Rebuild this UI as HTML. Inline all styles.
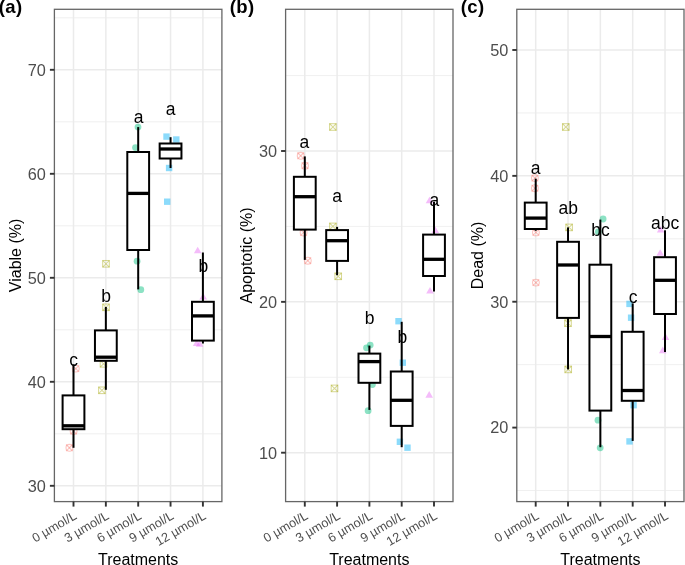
<!DOCTYPE html>
<html><head><meta charset="utf-8"><style>html,body{margin:0;padding:0;background:#fff;width:685px;height:565px;overflow:hidden}svg{display:block;will-change:transform}text{font-family:"Liberation Sans",sans-serif}</style></head>
<body>
<svg width="685" height="565" viewBox="0 0 685 565">
<rect width="685" height="565" fill="#fff"/>
<g stroke="#EBEBEB" fill="none">
<line x1="54.4" x2="221.9" y1="433.8" y2="433.8" stroke-width="0.75"/>
<line x1="54.4" x2="221.9" y1="329.8" y2="329.8" stroke-width="0.75"/>
<line x1="54.4" x2="221.9" y1="225.8" y2="225.8" stroke-width="0.75"/>
<line x1="54.4" x2="221.9" y1="121.8" y2="121.8" stroke-width="0.75"/>
<line x1="54.4" x2="221.9" y1="17.8" y2="17.8" stroke-width="0.75"/>
<line x1="54.4" x2="221.9" y1="485.8" y2="485.8" stroke-width="1.5"/>
<line x1="54.4" x2="221.9" y1="381.8" y2="381.8" stroke-width="1.5"/>
<line x1="54.4" x2="221.9" y1="277.8" y2="277.8" stroke-width="1.5"/>
<line x1="54.4" x2="221.9" y1="173.8" y2="173.8" stroke-width="1.5"/>
<line x1="54.4" x2="221.9" y1="69.8" y2="69.8" stroke-width="1.5"/>
<line x1="73.5" x2="73.5" y1="9.3" y2="501.6" stroke-width="1.5"/>
<line x1="105.85" x2="105.85" y1="9.3" y2="501.6" stroke-width="1.5"/>
<line x1="138.2" x2="138.2" y1="9.3" y2="501.6" stroke-width="1.5"/>
<line x1="170.55" x2="170.55" y1="9.3" y2="501.6" stroke-width="1.5"/>
<line x1="202.9" x2="202.9" y1="9.3" y2="501.6" stroke-width="1.5"/>
</g>
<g stroke="#F8766D" stroke-opacity="0.42" stroke-width="1.1" fill="none"><circle cx="75.8" cy="368.6" r="3.4"/><path d="M72.5 365.3L79.1 371.9"/><path d="M72.5 371.9L79.1 365.3"/></g>
<g stroke="#F8766D" stroke-opacity="0.42" stroke-width="1.1" fill="none"><circle cx="69.4" cy="447.8" r="3.4"/><path d="M66.1 444.5L72.7 451.1"/><path d="M66.1 451.1L72.7 444.5"/></g>
<g stroke="#F8766D" stroke-opacity="0.42" stroke-width="1.1" fill="none"><circle cx="73.6" cy="431" r="3.4"/><path d="M70.3 427.7L76.9 434.3"/><path d="M70.3 434.3L76.9 427.7"/></g>
<g stroke="#A3A500" stroke-opacity="0.42" stroke-width="1.05" fill="none"><rect x="102.7" y="260.5" width="6.6" height="6.6"/><path d="M102.7 260.5L109.3 267.1M102.7 267.1L109.3 260.5"/></g>
<g stroke="#A3A500" stroke-opacity="0.42" stroke-width="1.05" fill="none"><rect x="102.7" y="304" width="6.6" height="6.6"/><path d="M102.7 304L109.3 310.6M102.7 310.6L109.3 304"/></g>
<g stroke="#A3A500" stroke-opacity="0.42" stroke-width="1.05" fill="none"><rect x="100.2" y="360.5" width="6.6" height="6.6"/><path d="M100.2 360.5L106.8 367.1M100.2 367.1L106.8 360.5"/></g>
<g stroke="#A3A500" stroke-opacity="0.42" stroke-width="1.05" fill="none"><rect x="98.6" y="387" width="6.6" height="6.6"/><path d="M98.6 387L105.2 393.6M98.6 393.6L105.2 387"/></g>
<circle cx="138" cy="127.1" r="3.4" fill="#00BF7D" fill-opacity="0.45"/>
<circle cx="135.5" cy="147.6" r="3.4" fill="#00BF7D" fill-opacity="0.45"/>
<circle cx="137.1" cy="261.2" r="3.4" fill="#00BF7D" fill-opacity="0.45"/>
<circle cx="140.8" cy="289.7" r="3.4" fill="#00BF7D" fill-opacity="0.45"/>
<rect x="163.3" y="133.4" width="6.4" height="6.4" fill="#00B0F6" fill-opacity="0.45"/>
<rect x="173.1" y="136.3" width="6.4" height="6.4" fill="#00B0F6" fill-opacity="0.45"/>
<rect x="165.9" y="164.8" width="6.4" height="6.4" fill="#00B0F6" fill-opacity="0.45"/>
<rect x="164" y="198.5" width="6.4" height="6.4" fill="#00B0F6" fill-opacity="0.45"/>
<path d="M197.7 246.71L201.5 253.29L193.9 253.29Z" fill="#E76BF3" fill-opacity="0.45"/>
<path d="M203.2 292.91L207 299.49L199.4 299.49Z" fill="#E76BF3" fill-opacity="0.45"/>
<path d="M196.6 339.41L200.4 345.99L192.8 345.99Z" fill="#E76BF3" fill-opacity="0.45"/>
<path d="M199.6 340.21L203.4 346.79L195.8 346.79Z" fill="#E76BF3" fill-opacity="0.45"/>
<g stroke="#000" stroke-width="2" fill="#fff" stroke-linecap="butt">
<line x1="73.5" x2="73.5" y1="364.3" y2="395.4"/>
<line x1="73.5" x2="73.5" y1="429.2" y2="447.8"/>
<rect x="62.6" y="395.4" width="21.8" height="33.8"/>
<line x1="62.6" x2="84.4" y1="425.8" y2="425.8" stroke-width="3.3"/>
<line x1="105.85" x2="105.85" y1="307" y2="330.4"/>
<line x1="105.85" x2="105.85" y1="360.8" y2="389.8"/>
<rect x="94.95" y="330.4" width="21.8" height="30.4"/>
<line x1="94.95" x2="116.75" y1="357.2" y2="357.2" stroke-width="3.3"/>
<line x1="138.2" x2="138.2" y1="127.1" y2="152"/>
<line x1="138.2" x2="138.2" y1="250" y2="289.4"/>
<rect x="127.3" y="152" width="21.8" height="98"/>
<line x1="127.3" x2="149.1" y1="193.4" y2="193.4" stroke-width="3.3"/>
<line x1="170.55" x2="170.55" y1="137.2" y2="143.5"/>
<line x1="170.55" x2="170.55" y1="158.5" y2="168"/>
<rect x="159.65" y="143.5" width="21.8" height="15"/>
<line x1="159.65" x2="181.45" y1="149" y2="149" stroke-width="3.3"/>
<line x1="202.9" x2="202.9" y1="252.5" y2="301.8"/>
<line x1="202.9" x2="202.9" y1="340.6" y2="343.5"/>
<rect x="192" y="301.8" width="21.8" height="38.8"/>
<line x1="192" x2="213.8" y1="315.9" y2="315.9" stroke-width="3.3"/>
</g>
<text x="73.65" y="366.3" font-family="Liberation Sans, sans-serif" font-size="17.5" text-anchor="middle" fill="#000">c</text>
<text x="106.15" y="301.9" font-family="Liberation Sans, sans-serif" font-size="17.5" text-anchor="middle" fill="#000">b</text>
<text x="138.7" y="123.2" font-family="Liberation Sans, sans-serif" font-size="17.5" text-anchor="middle" fill="#000">a</text>
<text x="170.7" y="114.7" font-family="Liberation Sans, sans-serif" font-size="17.5" text-anchor="middle" fill="#000">a</text>
<text x="203.25" y="272.2" font-family="Liberation Sans, sans-serif" font-size="17.5" text-anchor="middle" fill="#000">b</text>
<rect x="54.4" y="9.3" width="167.5" height="492.3" fill="none" stroke="#666" stroke-width="1.3"/>
<line x1="49.9" x2="54.4" y1="485.8" y2="485.8" stroke="#333" stroke-width="1.9"/>
<text x="45.9" y="491.6" font-family="Liberation Sans, sans-serif" font-size="16.3" text-anchor="end" fill="#4D4D4D">30</text>
<line x1="49.9" x2="54.4" y1="381.8" y2="381.8" stroke="#333" stroke-width="1.9"/>
<text x="45.9" y="387.6" font-family="Liberation Sans, sans-serif" font-size="16.3" text-anchor="end" fill="#4D4D4D">40</text>
<line x1="49.9" x2="54.4" y1="277.8" y2="277.8" stroke="#333" stroke-width="1.9"/>
<text x="45.9" y="283.6" font-family="Liberation Sans, sans-serif" font-size="16.3" text-anchor="end" fill="#4D4D4D">50</text>
<line x1="49.9" x2="54.4" y1="173.8" y2="173.8" stroke="#333" stroke-width="1.9"/>
<text x="45.9" y="179.6" font-family="Liberation Sans, sans-serif" font-size="16.3" text-anchor="end" fill="#4D4D4D">60</text>
<line x1="49.9" x2="54.4" y1="69.8" y2="69.8" stroke="#333" stroke-width="1.9"/>
<text x="45.9" y="75.6" font-family="Liberation Sans, sans-serif" font-size="16.3" text-anchor="end" fill="#4D4D4D">70</text>
<line x1="73.5" x2="73.5" y1="501.6" y2="506.6" stroke="#333" stroke-width="1.9"/>
<text transform="translate(73 510.4) rotate(-30)" x="0" y="0" dy="0.72em" font-family="Liberation Sans, sans-serif" font-size="12.7" text-anchor="end" fill="#4D4D4D">0 µmol/L</text>
<line x1="105.85" x2="105.85" y1="501.6" y2="506.6" stroke="#333" stroke-width="1.9"/>
<text transform="translate(105.35 510.4) rotate(-30)" x="0" y="0" dy="0.72em" font-family="Liberation Sans, sans-serif" font-size="12.7" text-anchor="end" fill="#4D4D4D">3 µmol/L</text>
<line x1="138.2" x2="138.2" y1="501.6" y2="506.6" stroke="#333" stroke-width="1.9"/>
<text transform="translate(137.7 510.4) rotate(-30)" x="0" y="0" dy="0.72em" font-family="Liberation Sans, sans-serif" font-size="12.7" text-anchor="end" fill="#4D4D4D">6 µmol/L</text>
<line x1="170.55" x2="170.55" y1="501.6" y2="506.6" stroke="#333" stroke-width="1.9"/>
<text transform="translate(170.05 510.4) rotate(-30)" x="0" y="0" dy="0.72em" font-family="Liberation Sans, sans-serif" font-size="12.7" text-anchor="end" fill="#4D4D4D">9 µmol/L</text>
<line x1="202.9" x2="202.9" y1="501.6" y2="506.6" stroke="#333" stroke-width="1.9"/>
<text transform="translate(202.4 510.4) rotate(-30)" x="0" y="0" dy="0.72em" font-family="Liberation Sans, sans-serif" font-size="12.7" text-anchor="end" fill="#4D4D4D">12 µmol/L</text>
<text x="138.15" y="564.8" font-family="Liberation Sans, sans-serif" font-size="16" text-anchor="middle" fill="#000">Treatments</text>
<text transform="translate(21.2 255.45) rotate(-90)" x="0" y="0" font-family="Liberation Sans, sans-serif" font-size="16" text-anchor="middle" fill="#000">Viable (%)</text>
<text x="-1.2" y="12.9" font-family="Liberation Sans, sans-serif" font-size="18.5" font-weight="bold" letter-spacing="0.4" fill="#000">(a)</text>
<g stroke="#EBEBEB" fill="none">
<line x1="285.6" x2="453" y1="377.27" y2="377.27" stroke-width="0.75"/>
<line x1="285.6" x2="453" y1="226.42" y2="226.42" stroke-width="0.75"/>
<line x1="285.6" x2="453" y1="75.57" y2="75.57" stroke-width="0.75"/>
<line x1="285.6" x2="453" y1="452.7" y2="452.7" stroke-width="1.5"/>
<line x1="285.6" x2="453" y1="301.85" y2="301.85" stroke-width="1.5"/>
<line x1="285.6" x2="453" y1="151" y2="151" stroke-width="1.5"/>
<line x1="304.8" x2="304.8" y1="9.3" y2="501.6" stroke-width="1.5"/>
<line x1="337.1" x2="337.1" y1="9.3" y2="501.6" stroke-width="1.5"/>
<line x1="369.4" x2="369.4" y1="9.3" y2="501.6" stroke-width="1.5"/>
<line x1="401.7" x2="401.7" y1="9.3" y2="501.6" stroke-width="1.5"/>
<line x1="434" x2="434" y1="9.3" y2="501.6" stroke-width="1.5"/>
</g>
<g stroke="#F8766D" stroke-opacity="0.42" stroke-width="1.1" fill="none"><circle cx="300.7" cy="155.8" r="3.4"/><path d="M297.4 152.5L304 159.1"/><path d="M297.4 159.1L304 152.5"/></g>
<g stroke="#F8766D" stroke-opacity="0.42" stroke-width="1.1" fill="none"><circle cx="305" cy="165.7" r="3.4"/><path d="M301.7 162.4L308.3 169"/><path d="M301.7 169L308.3 162.4"/></g>
<g stroke="#F8766D" stroke-opacity="0.42" stroke-width="1.1" fill="none"><circle cx="303.6" cy="232.5" r="3.4"/><path d="M300.3 229.2L306.9 235.8"/><path d="M300.3 235.8L306.9 229.2"/></g>
<g stroke="#F8766D" stroke-opacity="0.42" stroke-width="1.1" fill="none"><circle cx="307.8" cy="260.7" r="3.4"/><path d="M304.5 257.4L311.1 264"/><path d="M304.5 264L311.1 257.4"/></g>
<g stroke="#A3A500" stroke-opacity="0.42" stroke-width="1.05" fill="none"><rect x="329.6" y="123.7" width="6.6" height="6.6"/><path d="M329.6 123.7L336.2 130.3M329.6 130.3L336.2 123.7"/></g>
<g stroke="#A3A500" stroke-opacity="0.42" stroke-width="1.05" fill="none"><rect x="329.6" y="223.1" width="6.6" height="6.6"/><path d="M329.6 223.1L336.2 229.7M329.6 229.7L336.2 223.1"/></g>
<g stroke="#A3A500" stroke-opacity="0.42" stroke-width="1.05" fill="none"><rect x="334.9" y="273" width="6.6" height="6.6"/><path d="M334.9 273L341.5 279.6M334.9 279.6L341.5 273"/></g>
<g stroke="#A3A500" stroke-opacity="0.42" stroke-width="1.05" fill="none"><rect x="331.2" y="385.1" width="6.6" height="6.6"/><path d="M331.2 385.1L337.8 391.7M331.2 391.7L337.8 385.1"/></g>
<circle cx="366.5" cy="347.8" r="3.4" fill="#00BF7D" fill-opacity="0.45"/>
<circle cx="370.2" cy="345.1" r="3.4" fill="#00BF7D" fill-opacity="0.45"/>
<circle cx="372.4" cy="384.6" r="3.4" fill="#00BF7D" fill-opacity="0.45"/>
<circle cx="368.1" cy="410.7" r="3.4" fill="#00BF7D" fill-opacity="0.45"/>
<rect x="395.3" y="318" width="6.4" height="6.4" fill="#00B0F6" fill-opacity="0.45"/>
<rect x="399.6" y="359.5" width="6.4" height="6.4" fill="#00B0F6" fill-opacity="0.45"/>
<rect x="396.7" y="438.6" width="6.4" height="6.4" fill="#00B0F6" fill-opacity="0.45"/>
<rect x="404.3" y="444.5" width="6.4" height="6.4" fill="#00B0F6" fill-opacity="0.45"/>
<path d="M429.5 196.71L433.3 203.29L425.7 203.29Z" fill="#E76BF3" fill-opacity="0.45"/>
<path d="M435.3 226.51L439.1 233.09L431.5 233.09Z" fill="#E76BF3" fill-opacity="0.45"/>
<path d="M430 287.01L433.8 293.59L426.2 293.59Z" fill="#E76BF3" fill-opacity="0.45"/>
<path d="M429.2 391.11L433 397.69L425.4 397.69Z" fill="#E76BF3" fill-opacity="0.45"/>
<g stroke="#000" stroke-width="2" fill="#fff" stroke-linecap="butt">
<line x1="304.8" x2="304.8" y1="156.4" y2="176.8"/>
<line x1="304.8" x2="304.8" y1="229.6" y2="259.9"/>
<rect x="293.9" y="176.8" width="21.8" height="52.8"/>
<line x1="293.9" x2="315.7" y1="196.7" y2="196.7" stroke-width="3.3"/>
<line x1="337.1" x2="337.1" y1="226.9" y2="230.1"/>
<line x1="337.1" x2="337.1" y1="260.9" y2="275.2"/>
<rect x="326.2" y="230.1" width="21.8" height="30.8"/>
<line x1="326.2" x2="348" y1="240.7" y2="240.7" stroke-width="3.3"/>
<line x1="369.4" x2="369.4" y1="345.6" y2="353.6"/>
<line x1="369.4" x2="369.4" y1="382.8" y2="409.9"/>
<rect x="358.5" y="353.6" width="21.8" height="29.2"/>
<line x1="358.5" x2="380.3" y1="361.6" y2="361.6" stroke-width="3.3"/>
<line x1="401.7" x2="401.7" y1="321.8" y2="371.5"/>
<line x1="401.7" x2="401.7" y1="425.9" y2="447.2"/>
<rect x="390.8" y="371.5" width="21.8" height="54.4"/>
<line x1="390.8" x2="412.6" y1="400.3" y2="400.3" stroke-width="3.3"/>
<line x1="434" x2="434" y1="201.7" y2="234.6"/>
<line x1="434" x2="434" y1="276" y2="291.4"/>
<rect x="423.1" y="234.6" width="21.8" height="41.4"/>
<line x1="423.1" x2="444.9" y1="259.3" y2="259.3" stroke-width="3.3"/>
</g>
<text x="304.4" y="148.1" font-family="Liberation Sans, sans-serif" font-size="17.5" text-anchor="middle" fill="#000">a</text>
<text x="337.05" y="201.7" font-family="Liberation Sans, sans-serif" font-size="17.5" text-anchor="middle" fill="#000">a</text>
<text x="369.7" y="324.3" font-family="Liberation Sans, sans-serif" font-size="17.5" text-anchor="middle" fill="#000">b</text>
<text x="402.25" y="342.9" font-family="Liberation Sans, sans-serif" font-size="17.5" text-anchor="middle" fill="#000">b</text>
<text x="434.25" y="205.8" font-family="Liberation Sans, sans-serif" font-size="17.5" text-anchor="middle" fill="#000">a</text>
<rect x="285.6" y="9.3" width="167.4" height="492.3" fill="none" stroke="#666" stroke-width="1.3"/>
<line x1="281.1" x2="285.6" y1="452.7" y2="452.7" stroke="#333" stroke-width="1.9"/>
<text x="277.1" y="458.5" font-family="Liberation Sans, sans-serif" font-size="16.3" text-anchor="end" fill="#4D4D4D">10</text>
<line x1="281.1" x2="285.6" y1="301.85" y2="301.85" stroke="#333" stroke-width="1.9"/>
<text x="277.1" y="307.65" font-family="Liberation Sans, sans-serif" font-size="16.3" text-anchor="end" fill="#4D4D4D">20</text>
<line x1="281.1" x2="285.6" y1="151" y2="151" stroke="#333" stroke-width="1.9"/>
<text x="277.1" y="156.8" font-family="Liberation Sans, sans-serif" font-size="16.3" text-anchor="end" fill="#4D4D4D">30</text>
<line x1="304.8" x2="304.8" y1="501.6" y2="506.6" stroke="#333" stroke-width="1.9"/>
<text transform="translate(304.3 510.4) rotate(-30)" x="0" y="0" dy="0.72em" font-family="Liberation Sans, sans-serif" font-size="12.7" text-anchor="end" fill="#4D4D4D">0 µmol/L</text>
<line x1="337.1" x2="337.1" y1="501.6" y2="506.6" stroke="#333" stroke-width="1.9"/>
<text transform="translate(336.6 510.4) rotate(-30)" x="0" y="0" dy="0.72em" font-family="Liberation Sans, sans-serif" font-size="12.7" text-anchor="end" fill="#4D4D4D">3 µmol/L</text>
<line x1="369.4" x2="369.4" y1="501.6" y2="506.6" stroke="#333" stroke-width="1.9"/>
<text transform="translate(368.9 510.4) rotate(-30)" x="0" y="0" dy="0.72em" font-family="Liberation Sans, sans-serif" font-size="12.7" text-anchor="end" fill="#4D4D4D">6 µmol/L</text>
<line x1="401.7" x2="401.7" y1="501.6" y2="506.6" stroke="#333" stroke-width="1.9"/>
<text transform="translate(401.2 510.4) rotate(-30)" x="0" y="0" dy="0.72em" font-family="Liberation Sans, sans-serif" font-size="12.7" text-anchor="end" fill="#4D4D4D">9 µmol/L</text>
<line x1="434" x2="434" y1="501.6" y2="506.6" stroke="#333" stroke-width="1.9"/>
<text transform="translate(433.5 510.4) rotate(-30)" x="0" y="0" dy="0.72em" font-family="Liberation Sans, sans-serif" font-size="12.7" text-anchor="end" fill="#4D4D4D">12 µmol/L</text>
<text x="369.3" y="564.8" font-family="Liberation Sans, sans-serif" font-size="16" text-anchor="middle" fill="#000">Treatments</text>
<text transform="translate(252.2 255.45) rotate(-90)" x="0" y="0" font-family="Liberation Sans, sans-serif" font-size="16" text-anchor="middle" fill="#000">Apoptotic (%)</text>
<text x="229.8" y="12.9" font-family="Liberation Sans, sans-serif" font-size="18.5" font-weight="bold" letter-spacing="0.4" fill="#000">(b)</text>
<g stroke="#EBEBEB" fill="none">
<line x1="516.8" x2="684" y1="490.54" y2="490.54" stroke-width="0.75"/>
<line x1="516.8" x2="684" y1="364.67" y2="364.67" stroke-width="0.75"/>
<line x1="516.8" x2="684" y1="238.8" y2="238.8" stroke-width="0.75"/>
<line x1="516.8" x2="684" y1="112.93" y2="112.93" stroke-width="0.75"/>
<line x1="516.8" x2="684" y1="427.6" y2="427.6" stroke-width="1.5"/>
<line x1="516.8" x2="684" y1="301.73" y2="301.73" stroke-width="1.5"/>
<line x1="516.8" x2="684" y1="175.86" y2="175.86" stroke-width="1.5"/>
<line x1="516.8" x2="684" y1="49.99" y2="49.99" stroke-width="1.5"/>
<line x1="535.7" x2="535.7" y1="9.3" y2="501.6" stroke-width="1.5"/>
<line x1="568.03" x2="568.03" y1="9.3" y2="501.6" stroke-width="1.5"/>
<line x1="600.36" x2="600.36" y1="9.3" y2="501.6" stroke-width="1.5"/>
<line x1="632.69" x2="632.69" y1="9.3" y2="501.6" stroke-width="1.5"/>
<line x1="665.02" x2="665.02" y1="9.3" y2="501.6" stroke-width="1.5"/>
</g>
<g stroke="#F8766D" stroke-opacity="0.42" stroke-width="1.1" fill="none"><circle cx="534.9" cy="178.1" r="3.4"/><path d="M531.6 174.8L538.2 181.4"/><path d="M531.6 181.4L538.2 174.8"/></g>
<g stroke="#F8766D" stroke-opacity="0.42" stroke-width="1.1" fill="none"><circle cx="534.9" cy="188.2" r="3.4"/><path d="M531.6 184.9L538.2 191.5"/><path d="M531.6 191.5L538.2 184.9"/></g>
<g stroke="#F8766D" stroke-opacity="0.42" stroke-width="1.1" fill="none"><circle cx="535.9" cy="232.4" r="3.4"/><path d="M532.6 229.1L539.2 235.7"/><path d="M532.6 235.7L539.2 229.1"/></g>
<g stroke="#F8766D" stroke-opacity="0.42" stroke-width="1.1" fill="none"><circle cx="535.9" cy="282.6" r="3.4"/><path d="M532.6 279.3L539.2 285.9"/><path d="M532.6 285.9L539.2 279.3"/></g>
<g stroke="#A3A500" stroke-opacity="0.42" stroke-width="1.05" fill="none"><rect x="562.5" y="123.7" width="6.6" height="6.6"/><path d="M562.5 123.7L569.1 130.3M562.5 130.3L569.1 123.7"/></g>
<g stroke="#A3A500" stroke-opacity="0.42" stroke-width="1.05" fill="none"><rect x="565.8" y="224.1" width="6.6" height="6.6"/><path d="M565.8 224.1L572.4 230.7M565.8 230.7L572.4 224.1"/></g>
<g stroke="#A3A500" stroke-opacity="0.42" stroke-width="1.05" fill="none"><rect x="564.7" y="319.9" width="6.6" height="6.6"/><path d="M564.7 319.9L571.3 326.5M564.7 326.5L571.3 319.9"/></g>
<g stroke="#A3A500" stroke-opacity="0.42" stroke-width="1.05" fill="none"><rect x="564.9" y="366.1" width="6.6" height="6.6"/><path d="M564.9 366.1L571.5 372.7M564.9 372.7L571.5 366.1"/></g>
<circle cx="603.1" cy="219" r="3.4" fill="#00BF7D" fill-opacity="0.45"/>
<circle cx="598.3" cy="231.8" r="3.4" fill="#00BF7D" fill-opacity="0.45"/>
<circle cx="598" cy="420.2" r="3.4" fill="#00BF7D" fill-opacity="0.45"/>
<circle cx="600.2" cy="447.8" r="3.4" fill="#00BF7D" fill-opacity="0.45"/>
<rect x="626.3" y="300.7" width="6.4" height="6.4" fill="#00B0F6" fill-opacity="0.45"/>
<rect x="627.9" y="314.5" width="6.4" height="6.4" fill="#00B0F6" fill-opacity="0.45"/>
<rect x="630.4" y="402" width="6.4" height="6.4" fill="#00B0F6" fill-opacity="0.45"/>
<rect x="626.3" y="438.2" width="6.4" height="6.4" fill="#00B0F6" fill-opacity="0.45"/>
<path d="M660.7 225.91L664.5 232.49L656.9 232.49Z" fill="#E76BF3" fill-opacity="0.45"/>
<path d="M660.2 249.21L664 255.79L656.4 255.79Z" fill="#E76BF3" fill-opacity="0.45"/>
<path d="M665.5 333.31L669.3 339.89L661.7 339.89Z" fill="#E76BF3" fill-opacity="0.45"/>
<path d="M662.8 346.61L666.6 353.19L659 353.19Z" fill="#E76BF3" fill-opacity="0.45"/>
<g stroke="#000" stroke-width="2" fill="#fff" stroke-linecap="butt">
<line x1="535.7" x2="535.7" y1="178.7" y2="202.6"/>
<line x1="535.7" x2="535.7" y1="229" y2="230.8"/>
<rect x="524.8" y="202.6" width="21.8" height="26.4"/>
<line x1="524.8" x2="546.6" y1="218.1" y2="218.1" stroke-width="3.3"/>
<line x1="568.03" x2="568.03" y1="227.4" y2="241.8"/>
<line x1="568.03" x2="568.03" y1="317.9" y2="369.4"/>
<rect x="557.13" y="241.8" width="21.8" height="76.1"/>
<line x1="557.13" x2="578.93" y1="265" y2="265" stroke-width="3.3"/>
<line x1="600.36" x2="600.36" y1="219.6" y2="264.7"/>
<line x1="600.36" x2="600.36" y1="410.6" y2="447.2"/>
<rect x="589.46" y="264.7" width="21.8" height="145.9"/>
<line x1="589.46" x2="611.26" y1="336.5" y2="336.5" stroke-width="3.3"/>
<line x1="632.69" x2="632.69" y1="303.4" y2="331.8"/>
<line x1="632.69" x2="632.69" y1="400.8" y2="440.9"/>
<rect x="621.79" y="331.8" width="21.8" height="69"/>
<line x1="621.79" x2="643.59" y1="390.5" y2="390.5" stroke-width="3.3"/>
<line x1="665.02" x2="665.02" y1="230.3" y2="257.2"/>
<line x1="665.02" x2="665.02" y1="314" y2="352"/>
<rect x="654.12" y="257.2" width="21.8" height="56.8"/>
<line x1="654.12" x2="675.92" y1="280.3" y2="280.3" stroke-width="3.3"/>
</g>
<text x="535.65" y="173.8" font-family="Liberation Sans, sans-serif" font-size="17.5" text-anchor="middle" fill="#000">a</text>
<text x="568.25" y="213.5" font-family="Liberation Sans, sans-serif" font-size="17.5" text-anchor="middle" fill="#000">ab</text>
<text x="600.6" y="236.4" font-family="Liberation Sans, sans-serif" font-size="17.5" text-anchor="middle" fill="#000">bc</text>
<text x="633.15" y="303.2" font-family="Liberation Sans, sans-serif" font-size="17.5" text-anchor="middle" fill="#000">c</text>
<text x="665.2" y="228.5" font-family="Liberation Sans, sans-serif" font-size="17.5" text-anchor="middle" fill="#000">abc</text>
<rect x="516.8" y="9.3" width="167.2" height="492.3" fill="none" stroke="#666" stroke-width="1.3"/>
<line x1="512.3" x2="516.8" y1="427.6" y2="427.6" stroke="#333" stroke-width="1.9"/>
<text x="508.3" y="433.4" font-family="Liberation Sans, sans-serif" font-size="16.3" text-anchor="end" fill="#4D4D4D">20</text>
<line x1="512.3" x2="516.8" y1="301.73" y2="301.73" stroke="#333" stroke-width="1.9"/>
<text x="508.3" y="307.53" font-family="Liberation Sans, sans-serif" font-size="16.3" text-anchor="end" fill="#4D4D4D">30</text>
<line x1="512.3" x2="516.8" y1="175.86" y2="175.86" stroke="#333" stroke-width="1.9"/>
<text x="508.3" y="181.66" font-family="Liberation Sans, sans-serif" font-size="16.3" text-anchor="end" fill="#4D4D4D">40</text>
<line x1="512.3" x2="516.8" y1="49.99" y2="49.99" stroke="#333" stroke-width="1.9"/>
<text x="508.3" y="55.79" font-family="Liberation Sans, sans-serif" font-size="16.3" text-anchor="end" fill="#4D4D4D">50</text>
<line x1="535.7" x2="535.7" y1="501.6" y2="506.6" stroke="#333" stroke-width="1.9"/>
<text transform="translate(535.2 510.4) rotate(-30)" x="0" y="0" dy="0.72em" font-family="Liberation Sans, sans-serif" font-size="12.7" text-anchor="end" fill="#4D4D4D">0 µmol/L</text>
<line x1="568.03" x2="568.03" y1="501.6" y2="506.6" stroke="#333" stroke-width="1.9"/>
<text transform="translate(567.53 510.4) rotate(-30)" x="0" y="0" dy="0.72em" font-family="Liberation Sans, sans-serif" font-size="12.7" text-anchor="end" fill="#4D4D4D">3 µmol/L</text>
<line x1="600.36" x2="600.36" y1="501.6" y2="506.6" stroke="#333" stroke-width="1.9"/>
<text transform="translate(599.86 510.4) rotate(-30)" x="0" y="0" dy="0.72em" font-family="Liberation Sans, sans-serif" font-size="12.7" text-anchor="end" fill="#4D4D4D">6 µmol/L</text>
<line x1="632.69" x2="632.69" y1="501.6" y2="506.6" stroke="#333" stroke-width="1.9"/>
<text transform="translate(632.19 510.4) rotate(-30)" x="0" y="0" dy="0.72em" font-family="Liberation Sans, sans-serif" font-size="12.7" text-anchor="end" fill="#4D4D4D">9 µmol/L</text>
<line x1="665.02" x2="665.02" y1="501.6" y2="506.6" stroke="#333" stroke-width="1.9"/>
<text transform="translate(664.52 510.4) rotate(-30)" x="0" y="0" dy="0.72em" font-family="Liberation Sans, sans-serif" font-size="12.7" text-anchor="end" fill="#4D4D4D">12 µmol/L</text>
<text x="600.4" y="564.8" font-family="Liberation Sans, sans-serif" font-size="16" text-anchor="middle" fill="#000">Treatments</text>
<text transform="translate(483.2 255.45) rotate(-90)" x="0" y="0" font-family="Liberation Sans, sans-serif" font-size="16" text-anchor="middle" fill="#000">Dead (%)</text>
<text x="460.8" y="12.9" font-family="Liberation Sans, sans-serif" font-size="18.5" font-weight="bold" letter-spacing="0.4" fill="#000">(c)</text>
</svg>
</body></html>
